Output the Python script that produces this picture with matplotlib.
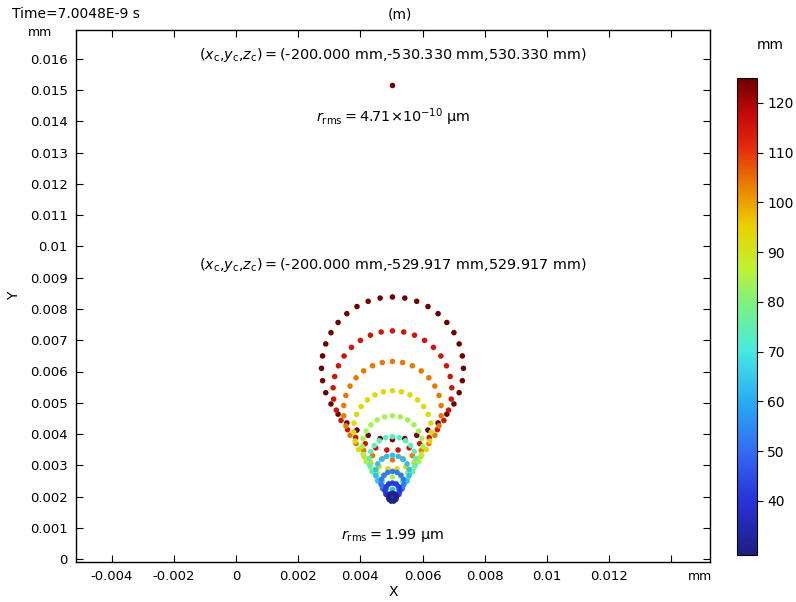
import numpy as np
import matplotlib
matplotlib.use("Agg")
import matplotlib.pyplot as plt
from matplotlib.colors import LinearSegmentedColormap

# ---------------- data ----------------
# coma-like spot: rings of rays, each ring a circle (centre x, centre y, radius), coloured by value
ring_values = [125, 115, 104, 93.5, 84, 74, 63, 52, 41, 30.5]
ring_radius = [0.002282, 0.001910, 0.001574, 0.001253, 0.000978,
               0.000750, 0.000545, 0.000369, 0.000240, 0.000128]
ring_center_y = [0.006102, 0.005389, 0.004746, 0.004131, 0.003603,
                 0.003165, 0.002771, 0.002435, 0.002189, 0.001974]
ring_center_x = 0.00503
ring_npoints = [36, 33, 30, 27, 24, 21, 18, 15, 12, 9]

# second (perfectly focused) spot
spot2_x = [0.00503]
spot2_y = [0.01517]
spot2_value = [125]

xtick_values = [-0.004, -0.002, 0, 0.002, 0.004, 0.006, 0.008, 0.01, 0.012, 0.014]
xtick_labels = ["-0.004", "-0.002", "0", "0.002", "0.004", "0.006", "0.008", "0.01", "0.012", ""]
ytick_values = [0, 0.001, 0.002, 0.003, 0.004, 0.005, 0.006, 0.007, 0.008,
                0.009, 0.01, 0.011, 0.012, 0.013, 0.014, 0.015, 0.016]
ytick_labels = ["0", "0.001", "0.002", "0.003", "0.004", "0.005", "0.006", "0.007", "0.008",
                "0.009", "0.01", "0.011", "0.012", "0.013", "0.014", "0.015", "0.016"]
cbar_ticks = [40, 50, 60, 70, 80, 90, 100, 110, 120]
vmin, vmax = 29.1, 125.0

# ---------------- build point list ----------------
xs, ys, cs = [], [], []
for v, r, cy, n in zip(ring_values, ring_radius, ring_center_y, ring_npoints):
    ang = np.pi / 2 + np.arange(n) * 2 * np.pi / n
    xs.extend(ring_center_x + r * np.cos(ang))
    ys.extend(cy + r * np.sin(ang))
    cs.extend([v] * n)

# COMSOL-like rainbow colormap
cmap = LinearSegmentedColormap.from_list("comsol_rainbow", [
    (0.00, (0.12, 0.12, 0.50)),
    (0.115, (0.16, 0.20, 0.86)),
    (0.22, (0.20, 0.43, 0.95)),
    (0.32, (0.16, 0.67, 0.95)),
    (0.43, (0.28, 0.92, 0.88)),
    (0.53, (0.50, 0.95, 0.50)),
    (0.60, (0.75, 0.95, 0.20)),
    (0.69, (0.92, 0.82, 0.00)),
    (0.77, (0.92, 0.52, 0.00)),
    (0.865, (0.88, 0.14, 0.05)),
    (0.93, (0.76, 0.03, 0.03)),
    (1.00, (0.43, 0.00, 0.00)),
])

W, H = 796, 602
fig = plt.figure(figsize=(W / 100, H / 100), dpi=100)
ax = fig.add_axes([76 / W, 1 - 562 / H, (710 - 76) / W, (562 - 30) / H])

sc = ax.scatter(xs, ys, c=cs, cmap=cmap, vmin=vmin, vmax=vmax, s=16, linewidths=0)
ax.scatter(spot2_x, spot2_y, c=spot2_value, cmap=cmap, vmin=vmin, vmax=vmax, s=16, linewidths=0)

ax.set_xlim(-0.005145, 0.01524)
ax.set_ylim(-0.000096, 0.016928)
ax.set_xticks(xtick_values)
ax.set_xticklabels(xtick_labels)
ax.set_yticks(ytick_values)
ax.set_yticklabels(ytick_labels)
ax.tick_params(direction="in", top=True, right=True, length=5, width=0.8,
               labelsize=9.5, pad=6)
for sp in ax.spines.values():
    sp.set_linewidth(1.0)

ax.set_xlabel("X", fontsize=10, labelpad=1)
ax.set_ylabel("Y", fontsize=10, labelpad=6)

# texts
fs_ann = 10.4
fig.text(393 / W, 1 - 55 / H,
         r"$(x_{\rm c}{,}y_{\rm c}{,}z_{\rm c})=($-200.000 mm,-530.330 mm,530.330 mm$)$",
         ha="center", va="center", fontsize=fs_ann)
fig.text(393 / W, 1 - 117 / H, r"$r_{\rm rms}=$4.71×10$^{-10}$ µm",
         ha="center", va="center", fontsize=fs_ann)
fig.text(393 / W, 1 - 265 / H,
         r"$(x_{\rm c}{,}y_{\rm c}{,}z_{\rm c})=($-200.000 mm,-529.917 mm,529.917 mm$)$",
         ha="center", va="center", fontsize=fs_ann)
fig.text(393 / W, 1 - 536 / H, r"$r_{\rm rms}=$1.99 µm",
         ha="center", va="center", fontsize=fs_ann)

fig.text(12 / W, 1 - 14 / H, "Time=7.0048E-9 s", ha="left", va="center", fontsize=10)
fig.text(400 / W, 1 - 14 / H, "(m)", ha="center", va="center", fontsize=10)
fig.text(40 / W, 1 - 33 / H, "mm", ha="center", va="center", fontsize=9)
fig.text(700 / W, 1 - 577 / H, "mm", ha="center", va="center", fontsize=9)

# colorbar
cax = fig.add_axes([737 / W, 1 - 555 / H, 20 / W, (555 - 78) / H])
cb = fig.colorbar(sc, cax=cax, ticks=cbar_ticks)
cb.ax.tick_params(labelsize=10, length=4, width=0.8)
cb.outline.set_linewidth(0.8)
fig.text(770 / W, 1 - 45 / H, "mm", ha="center", va="center", fontsize=10)

fig.savefig("out.png", dpi=100)
